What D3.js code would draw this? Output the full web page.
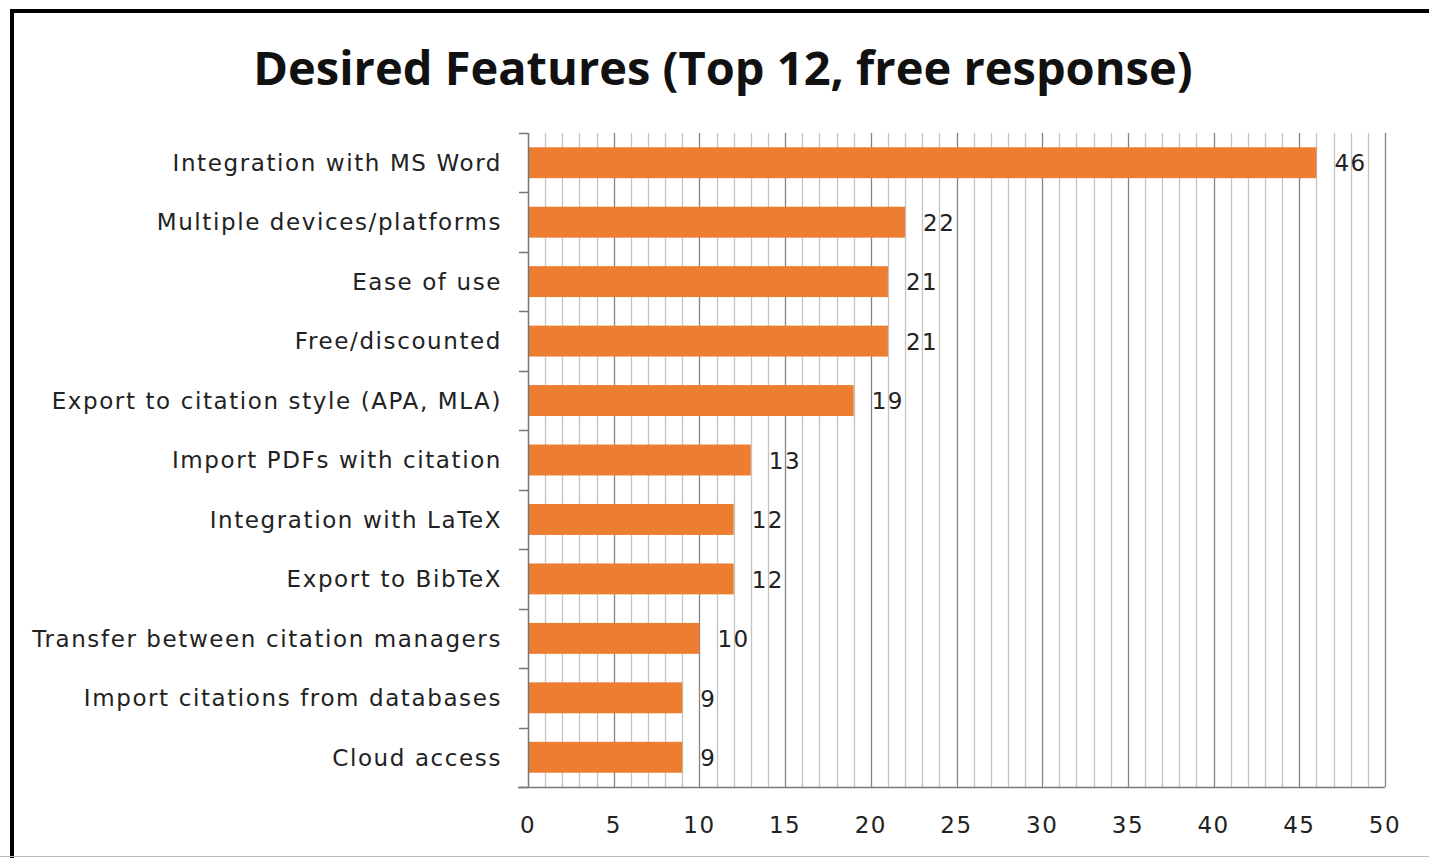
<!DOCTYPE html>
<html lang="en">
<head>
    <meta charset="UTF-8">
    <title>Desired Features</title>
    <script src="https://cdn.jsdelivr.net/npm/d3@7"></script>
    <style>
        body {
            margin: 0;
            background-color: #fff;
        }
        svg {
            display: block;
        }
        .title {
            font-family: "Open Sans", sans-serif;
            font-weight: bold;
            fill: #111;
        }
        .cat-label, .val-label, .tick-label {
            font-family: "DejaVu Sans", sans-serif;
            fill: #222;
        }
    </style>
</head>
<body>
    <div id="chart"></div>

    <script>
        // chart data
        const categories = [
            "Integration with MS Word",
            "Multiple devices/platforms",
            "Ease of use",
            "Free/discounted",
            "Export to citation style (APA, MLA)",
            "Import PDFs with citation",
            "Integration with LaTeX",
            "Export to BibTeX",
            "Transfer between citation managers",
            "Import citations from databases",
            "Cloud access"
        ];
        const counts = [46, 22, 21, 21, 19, 13, 12, 12, 10, 9, 9];
        const xTicks = [0, 5, 10, 15, 20, 25, 30, 35, 40, 45, 50];
        const titleText = "Desired Features (Top 12, free response)";

        const width = 1429, height = 858;
        const margin = { top: 133, right: 44, bottom: 71, left: 528 };
        const plotW = width - margin.left - margin.right;
        const plotH = height - margin.top - margin.bottom;

        const svg = d3.select("#chart").append("svg")
            .attr("width", width)
            .attr("height", height);

        // outer frame (only top and left edges show)
        svg.append("rect")
            .attr("x", 12).attr("y", 11)
            .attr("width", width).attr("height", height)
            .attr("fill", "none")
            .attr("stroke", "#000")
            .attr("stroke-width", 4);
        svg.append("line")
            .attr("x1", 0).attr("x2", width)
            .attr("y1", 856.5).attr("y2", 856.5)
            .attr("stroke", "#bbb");

        svg.append("text")
            .attr("class", "title")
            .attr("x", 723).attr("y", 85)
            .attr("text-anchor", "middle")
            .style("font-size", "47px")
            .text(titleText);

        const g = svg.append("g")
            .attr("transform", `translate(${margin.left}, ${margin.top})`);

        const x = d3.scaleLinear()
            .domain([0, 50])
            .range([0, plotW]);

        const y = d3.scaleBand()
            .domain(categories)
            .range([0, plotH])
            .paddingInner(0.48)
            .paddingOuter(0.24);

        // minor + major vertical gridlines
        const minor = d3.range(1, 51);
        g.selectAll(".grid")
            .data(minor)
            .enter().append("line")
            .attr("x1", d => Math.round(x(d)) + 0.5)
            .attr("x2", d => Math.round(x(d)) + 0.5)
            .attr("y1", 0)
            .attr("y2", plotH)
            .attr("stroke", d => d % 5 === 0 ? "#858585" : "#c4c4c4")
            .attr("stroke-width", 1.3);

        // bars
        g.selectAll(".bar")
            .data(categories)
            .enter().append("rect")
            .attr("x", 1)
            .attr("y", d => y(d))
            .attr("width", (d, i) => x(counts[i]) - 1)
            .attr("height", y.bandwidth())
            .attr("fill", "#ED7D31");

        // value labels
        g.selectAll(".val-label")
            .data(categories)
            .enter().append("text")
            .attr("class", "val-label")
            .attr("x", (d, i) => x(counts[i]) + 18)
            .attr("y", d => y(d) + y.bandwidth() / 2)
            .attr("dy", "0.38em")
            .style("font-size", "23px")
            .style("letter-spacing", "1.5px")
            .text((d, i) => counts[i]);

        // y axis: line with outward ticks at band edges
        const edges = d3.range(categories.length + 1).map(i => i * y.step());
        g.append("line")
            .attr("x1", 0.5).attr("x2", 0.5)
            .attr("y1", 0).attr("y2", plotH)
            .attr("stroke", "#777").attr("stroke-width", 1.5);
        g.selectAll(".ytick")
            .data(edges)
            .enter().append("line")
            .attr("x1", -9).attr("x2", 0)
            .attr("y1", d => Math.round(d) + 0.5)
            .attr("y2", d => Math.round(d) + 0.5)
            .attr("stroke", "#777").attr("stroke-width", 1.5);

        // category labels
        g.selectAll(".cat-label")
            .data(categories)
            .enter().append("text")
            .attr("class", "cat-label")
            .attr("x", -26)
            .attr("y", d => y(d) + y.bandwidth() / 2)
            .attr("dy", "0.36em")
            .attr("text-anchor", "end")
            .style("font-size", "23px")
            .style("letter-spacing", "1.6px")
            .text(d => d);

        // x axis
        g.append("line")
            .attr("x1", -10).attr("x2", plotW)
            .attr("y1", plotH + 0.5).attr("y2", plotH + 0.5)
            .attr("stroke", "#777").attr("stroke-width", 1.5);
        g.selectAll(".tick-label")
            .data(xTicks)
            .enter().append("text")
            .attr("class", "tick-label")
            .attr("x", d => x(d))
            .attr("y", plotH + 38)
            .attr("dy", "0.36em")
            .attr("text-anchor", "middle")
            .style("font-size", "23px")
            .style("letter-spacing", "1.5px")
            .text(d => d);
    </script>
</body>
</html>
